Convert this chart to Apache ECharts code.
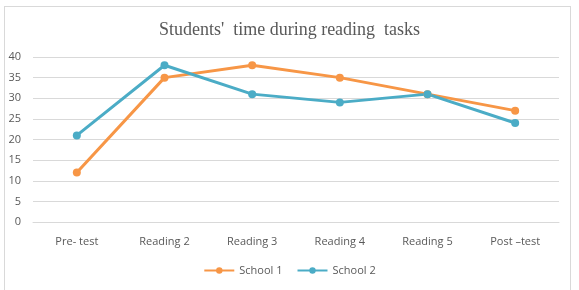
<!DOCTYPE html>
<html>
<head>
<meta charset="utf-8">
<script src="https://cdn.jsdelivr.net/npm/echarts@6/dist/echarts.min.js"></script>
<style>
  html, body { margin: 0; padding: 0; background: #fff; }
  #frame {
    position: absolute; left: 4px; top: 6px; width: 567px; height: 290px;
    border: 1px solid #d9d9d9; box-sizing: border-box;
  }
  #chart { position: absolute; left: 0; top: 0; width: 579px; height: 290px; }
</style>
</head>
<body>
<div id="frame"></div>
<div id="chart"></div>
<script>
const categories = ['Pre- test', 'Reading 2', 'Reading 3', 'Reading 4', 'Reading 5', 'Post \u2013test'];
const school1 = [12, 35, 38, 35, 31, 27];
const school2 = [21, 38, 31, 29, 31, 24];

let myChart = echarts.init(document.getElementById('chart'));
myChart.setOption({
  title: {
    text: "Students'  time during reading  tasks",
    left: 'center',
    top: 16,
    textStyle: {
      fontFamily: 'Liberation Serif',
      fontWeight: 'normal',
      fontSize: 18,
      color: '#595959'
    }
  },
  legend: {
    data: ['School 1', 'School 2'],
    bottom: 9,
    itemWidth: 30,
    itemHeight: 8,
    itemGap: 14,
    textStyle: { fontFamily: 'Open Sans', fontSize: 11, color: '#595959' }
  },
  grid: { left: 33, right: 20, top: 57, bottom: 68 },
  xAxis: {
    type: 'category',
    data: categories,
    axisLine: { show: true, lineStyle: { color: '#d9d9d9' } },
    axisTick: { show: false },
    axisLabel: { fontFamily: 'Open Sans', fontSize: 11, color: '#595959', margin: 14 }
  },
  yAxis: {
    type: 'value',
    min: 0,
    max: 40,
    interval: 5,
    axisLine: { show: false },
    axisTick: { show: false },
    splitLine: { lineStyle: { color: '#d9d9d9' } },
    axisLabel: { fontFamily: 'Open Sans', fontSize: 11, color: '#595959', margin: 12 }
  },
  series: [
    {
      name: 'School 1',
      type: 'line',
      data: school1,
      symbol: 'circle',
      symbolSize: 8,
      color: '#F79646',
      lineStyle: { width: 3 }
    },
    {
      name: 'School 2',
      type: 'line',
      data: school2,
      symbol: 'circle',
      symbolSize: 8,
      color: '#4BACC6',
      lineStyle: { width: 3 }
    }
  ]
});
</script>
</body>
</html>
